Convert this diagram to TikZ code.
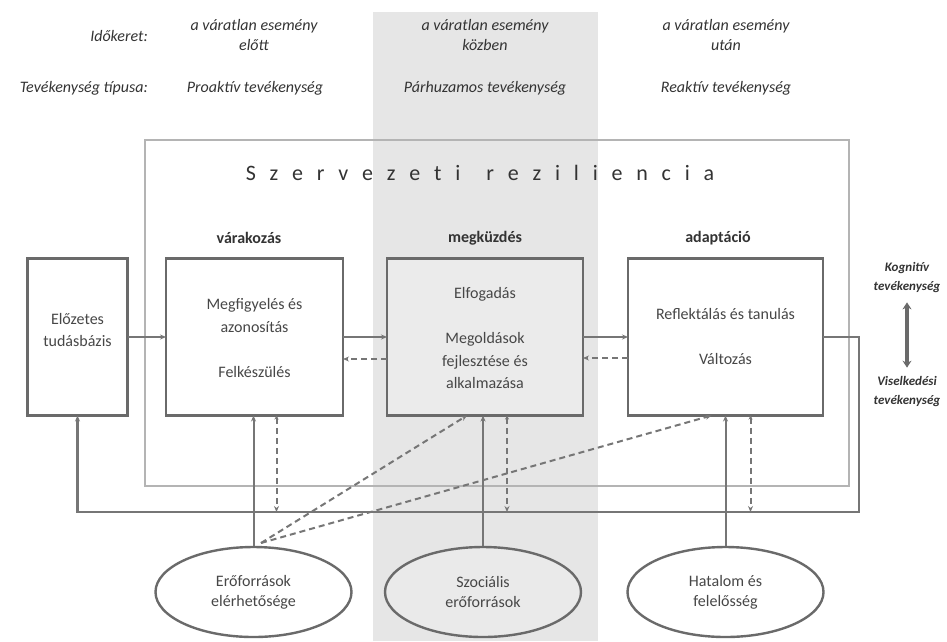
\documentclass[tikz,border=0pt]{standalone}
\usepackage{fontspec}
\setmainfont{Carlito}
\usetikzlibrary{shapes.geometric,arrows.meta}
\definecolor{bandc}{HTML}{E6E6E6}
\definecolor{boxline}{HTML}{6A6A6A}
\definecolor{conn}{HTML}{767676}
\definecolor{framec}{HTML}{B4B4B4}
\definecolor{txt}{HTML}{474747}
\definecolor{dtxt}{HTML}{333333}
\newcommand\lsp{\hspace{13.8pt}}
\newcommand\wsp{\hspace{26pt}}
\begin{document}
\begin{tikzpicture}[x=1pt,y=-1pt,
  blk/.style={draw=boxline, line width=2.6pt, minimum width=#1, minimum height=157pt, inner sep=0pt, outer sep=0pt},
  btxt/.style={text=txt, font=\fontsize{16}{22.5}\selectfont, align=center, inner sep=0pt},
  toptxt/.style={text=dtxt, font=\itshape\fontsize{16}{20}\selectfont, align=center, inner sep=0pt},
  lbl/.style={text=dtxt, font=\bfseries\fontsize{16}{20}\selectfont, inner sep=0pt},
  side/.style={text=dtxt, font=\bfseries\itshape\fontsize{13}{19}\selectfont, align=center, inner sep=0pt},
  ell/.style={ellipse, draw=boxline, line width=2.4pt, minimum width=196pt, minimum height=90pt, inner sep=0pt, align=center, text=txt, font=\fontsize{16}{20}\selectfont},
  conn/.style={draw=conn, line width=2pt},
  tip/.style={-{Stealth[length=6pt,width=5pt]}},
  dsh/.style={draw=conn, line width=2pt, dash pattern=on 6pt off 4pt},
]
\useasboundingbox (0,0) rectangle (947,641);
% band
\fill[bandc] (373,12) rectangle (598,641);
% outer frame
\draw[framec, line width=1.6pt] (145,140) rectangle (849,486);
\node[text=dtxt, font=\fontsize{22}{26}\selectfont, inner sep=0pt] (title) at (480,173)
 {S\lsp z\lsp e\lsp r\lsp v\lsp e\lsp z\lsp e\lsp t\lsp i\wsp r\lsp e\lsp z\lsp i\lsp l\lsp i\lsp e\lsp n\lsp c\lsp i\lsp a};

% top texts
\node[toptxt, anchor=east] (ik) at (148,36) {Időkeret:};
\node[toptxt] (t1) at (254,35) {a váratlan esemény\\előtt};
\node[toptxt] (t2) at (485,35) {a váratlan esemény\\közben};
\node[toptxt] (t3) at (726,35) {a váratlan esemény\\után};
\node[toptxt, anchor=east] (tt) at (148,88) {Tevékenység típusa:};
\node[toptxt] (p1) at (255,88) {Proaktív tevékenység};
\node[toptxt] (p2) at (485,88) {Párhuzamos tevékenység};
\node[toptxt] (p3) at (726,88) {Reaktív tevékenység};

% phase labels
\node[lbl] (l1) at (249,238) {várakozás};
\node[lbl] (l2) at (485,238) {megküzdés};
\node[lbl] (l3) at (718,238) {adaptáció};

% boxes
\node[blk=100pt, fill=white] (pre) at (77.5,337) {};
\node[blk=177pt, fill=white] (var) at (254.5,337) {};
\node[blk=196pt, fill=bandc!80!white] (meg) at (485,337) {};
\node[blk=195pt, fill=white] (ad) at (725.5,337) {};

\node[btxt] (pretx) at (77.5,330) {Előzetes\\tudásbázis};
\node[btxt] (vartx) at (254.5,338) {Megfigyelés és\\azonosítás\\[22.5pt]Felkészülés};
\node[btxt] (megtx) at (485,338) {Elfogadás\\[22.5pt]Megoldások\\fejlesztése és\\alkalmazása};
\node[btxt] (adtx) at (725.5,336) {Reflektálás és tanulás\\[22.5pt]Változás};

% ellipses
\node[ell, fill=white] (e1) at (253.5,592) {Erőforrások\\elérhetősége};
\node[ell, fill=bandc!85!white] (e2) at (483,592) {Szociális\\erőforrások};
\node[ell, fill=white] (e3) at (725.5,592) {Hatalom és\\felelősség};

% side texts
\node[side] (kog) at (907,278) {Kognitív\\tevékenység};
\node[side] (vis) at (907,392) {Viselkedési\\tevékenység};
\draw[draw=boxline, line width=3.5pt, {Stealth[length=7pt,width=9pt]}-{Stealth[length=7pt,width=9pt]}] (kog.south) ++(0,9) coordinate (ka) -- ([yshift=9pt]vis.north) coordinate (kb);

% horizontal flow
\draw[conn, tip] (pre.east) -- (var.west);
\draw[conn, tip] (var.east) -- (meg.west);
\draw[conn, tip] (meg.east) -- (ad.west);
\draw[dsh, tip] ([yshift=-22pt]meg.west) -- ([yshift=-22pt]var.east);
\draw[dsh, tip] ([yshift=-21pt]ad.west) -- ([yshift=-21pt]meg.east);

% feedback loop
\coordinate (fbR) at (859,512);
\coordinate (fbL) at (77.5,512);
\draw[conn, line width=2.4pt, tip] (ad.east) -| (fbR) -- (fbL) -- (pre.south);

% resources to boxes
\draw[conn, tip] (e1.north) -- (e1.north |- var.south);
\draw[conn, tip] (e2.north) -- (e2.north |- meg.south);
\draw[conn, tip] (e3.north) -- (e3.north |- ad.south);

% dashed verticals
\draw[dsh, {Stealth[length=4pt,width=4pt]}-{Stealth[length=6pt,width=5pt]}] ([xshift=23pt]e1.north |- var.south) -- ([xshift=23pt]e1.north |- fbL);
\draw[dsh, {Stealth[length=4pt,width=4pt]}-{Stealth[length=6pt,width=5pt]}] ([xshift=24pt]e2.north |- meg.south) -- ([xshift=24pt]e2.north |- fbL);
\draw[dsh, {Stealth[length=4pt,width=4pt]}-{Stealth[length=6pt,width=5pt]}] ([xshift=25pt]e3.north |- ad.south) -- ([xshift=25pt]e3.north |- fbL);

% dashed diagonals
\coordinate (d0) at (261,543);
\draw[dsh, tip] (d0) -- ([xshift=-18pt]meg.south);
\draw[dsh, tip] (d0) -- ([xshift=-14pt]ad.south);
\end{tikzpicture}
\end{document}
